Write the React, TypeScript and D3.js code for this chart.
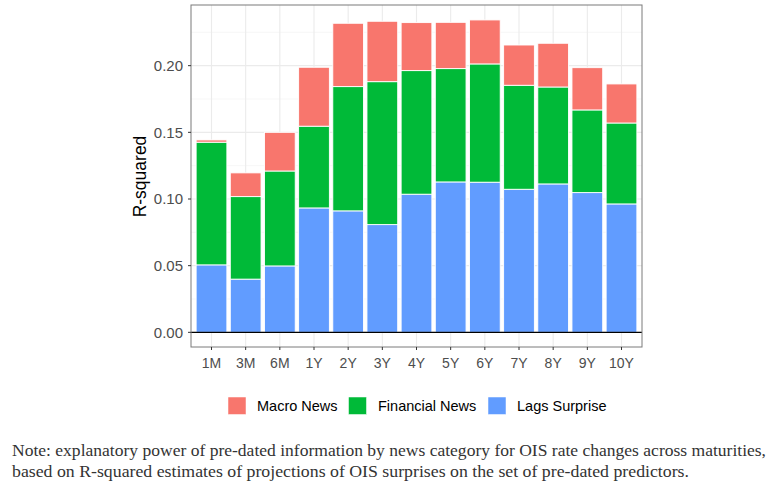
import React from "react";
import * as d3 from "d3";

const categories = ["1M", "3M", "6M", "1Y", "2Y", "3Y", "4Y", "5Y", "6Y", "7Y", "8Y", "9Y", "10Y"];
const lagsSurprise = [0.0506, 0.0399, 0.0498, 0.0933, 0.0911, 0.0808, 0.1036, 0.1128, 0.1126, 0.1073, 0.1113, 0.1048, 0.0963];
const financialNews = [0.092, 0.0619, 0.0712, 0.0613, 0.0932, 0.1072, 0.0927, 0.085, 0.0887, 0.078, 0.0727, 0.062, 0.0607];
const macroNews = [0.0017, 0.0178, 0.029, 0.0442, 0.0475, 0.0453, 0.036, 0.0347, 0.033, 0.0302, 0.0328, 0.0317, 0.0293];
const yTicks = [0, 0.05, 0.1, 0.15, 0.2];
const yMinor = [0.025, 0.075, 0.125, 0.175, 0.225];
const seriesNames = ["Macro News", "Financial News", "Lags Surprise"];
const seriesColors = ["#F8766D", "#00BA38", "#619CFF"];
const noteLines = [
  "Note: explanatory power of pre-dated information by news category for OIS rate changes across maturities,",
  "based on R-squared estimates of projections of OIS surprises on the set of pre-dated predictors.",
];

const W = 783;
const H = 490;
const panel = { left: 191, right: 642, top: 5, bottom: 347 };

export default function App() {
  const x = d3
    .scaleBand<string>()
    .domain(categories)
    .range([panel.left, panel.right])
    .paddingInner(0.1)
    .paddingOuter(0.15);
  const y = d3.scaleLinear().domain([-0.011, 0.2455]).range([panel.bottom, panel.top]);

  const rows = categories.map((c, i) => ({
    cat: c,
    lags: lagsSurprise[i],
    fin: financialNews[i],
    macro: macroNews[i],
  }));
  const stack = d3.stack<any>().keys(["lags", "fin", "macro"]);
  const stacked = stack(rows);
  const keyColor: Record<string, string> = {
    lags: seriesColors[2],
    fin: seriesColors[1],
    macro: seriesColors[0],
  };

  const tickFont = "'Liberation Sans', Arial, Helvetica, sans-serif";

  const legendItems = [
    { name: seriesNames[0], color: seriesColors[0], kx: 228, tx: 257 },
    { name: seriesNames[1], color: seriesColors[1], kx: 348.5, tx: 378 },
    { name: seriesNames[2], color: seriesColors[2], kx: 488, tx: 517 },
  ];

  return (
    <svg
      width={W}
      height={H}
      viewBox={`0 0 ${W} ${H}`}
      style={{ position: "absolute", left: 0, top: 0, background: "#fff" }}
    >
      <rect x={0} y={0} width={W} height={H} fill="#fff" />
      {/* grid */}
      <g>
        {yMinor.map((v) => (
          <line key={"mn" + v} x1={panel.left} x2={panel.right} y1={y(v)} y2={y(v)} stroke="#F2F2F2" strokeWidth={0.6} />
        ))}
        {yTicks.map((v) => (
          <line key={"mj" + v} x1={panel.left} x2={panel.right} y1={y(v)} y2={y(v)} stroke="#EBEBEB" strokeWidth={1.1} />
        ))}
        {categories.map((c) => {
          const cx = (x(c) as number) + x.bandwidth() / 2;
          return <line key={"vx" + c} x1={cx} x2={cx} y1={panel.top} y2={panel.bottom} stroke="#EBEBEB" strokeWidth={1.1} />;
        })}
      </g>
      {/* bars */}
      <g>
        {stacked.map((layer) =>
          layer.map((d, i) => (
            <rect
              key={layer.key + i}
              x={x(categories[i]) as number}
              width={x.bandwidth()}
              y={y(d[1])}
              height={y(d[0]) - y(d[1])}
              fill={keyColor[layer.key]}
              stroke="#fff"
              strokeWidth={0.9}
            />
          ))
        )}
      </g>
      {/* zero line */}
      <line x1={panel.left} x2={panel.right} y1={y(0)} y2={y(0)} stroke="#000" strokeWidth={1.1} />
      {/* panel border */}
      <rect
        x={panel.left}
        y={panel.top}
        width={panel.right - panel.left}
        height={panel.bottom - panel.top}
        fill="none"
        stroke="#7A7A7A"
        strokeWidth={1}
      />
      {/* y axis */}
      <g fontFamily={tickFont} fontSize={15} fill="#4D4D4D">
        {yTicks.map((v) => (
          <g key={"yt" + v}>
            <line x1={panel.left - 3} x2={panel.left} y1={y(v)} y2={y(v)} stroke="#333" strokeWidth={1} />
            <text x={panel.left - 8} y={y(v)} dy="0.36em" textAnchor="end">
              {d3.format(".2f")(v)}
            </text>
          </g>
        ))}
      </g>
      {/* x axis */}
      <g fontFamily={tickFont} fontSize={14} fill="#4D4D4D">
        {categories.map((c) => {
          const cx = (x(c) as number) + x.bandwidth() / 2;
          return (
            <g key={"xt" + c}>
              <line x1={cx} x2={cx} y1={panel.bottom} y2={panel.bottom + 3} stroke="#333" strokeWidth={1} />
              <text x={cx} y={367.5} textAnchor="middle">
                {c}
              </text>
            </g>
          );
        })}
      </g>
      {/* y title */}
      <text
        transform={`translate(146, ${(133 + 220) / 2}) rotate(-90)`}
        textAnchor="middle"
        fontFamily={tickFont}
        fontSize={17.5}
        fill="#000"
      >
        R-squared
      </text>
      {/* legend */}
      <g fontFamily={tickFont} fontSize={14.5} fill="#000">
        {legendItems.map((it) => (
          <g key={it.name}>
            <rect x={it.kx} y={397} width={18} height={17.5} fill={it.color} stroke="#fff" strokeWidth={0.5} />
            <text x={it.tx} y={410.5}>
              {it.name}
            </text>
          </g>
        ))}
      </g>
      {/* note */}
      <g fontFamily="'Liberation Serif', 'DejaVu Serif', serif" fontSize={16.5} fill="#333">
        <text x={12} y={456} textLength={754} lengthAdjust="spacingAndGlyphs">
          {noteLines[0]}
        </text>
        <text x={12} y={477} textLength={677} lengthAdjust="spacingAndGlyphs">
          {noteLines[1]}
        </text>
      </g>
    </svg>
  );
}
